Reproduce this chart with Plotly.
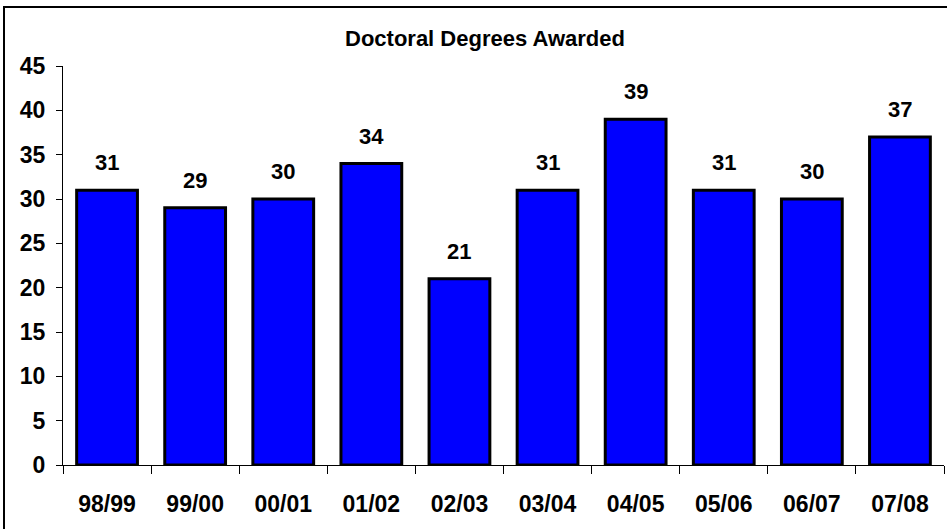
import plotly.graph_objects as go

categories = ["98/99", "99/00", "00/01", "01/02", "02/03", "03/04", "04/05", "05/06", "06/07", "07/08"]
degrees = [31, 29, 30, 34, 21, 31, 39, 31, 30, 37]
y_ticks = [0, 5, 10, 15, 20, 25, 30, 35, 40, 45]

FONT = "Liberation Sans, Arial, sans-serif"

fig = go.Figure()
fig.add_trace(go.Bar(
    x=categories, y=degrees,
    marker=dict(color="#0000FF", line=dict(color="black", width=3)),
    width=0.69,
    hoverinfo="x+y",
))

for c, v in zip(categories, degrees):
    fig.add_annotation(x=c, y=v, text=f"<b>{v}</b>", showarrow=False,
                       yanchor="bottom", yshift=13,
                       font=dict(family=FONT, size=22, color="black"))

fig.update_layout(
    width=947, height=529,
    margin=dict(l=63, r=3, t=66, b=64),
    paper_bgcolor="white", plot_bgcolor="white",
    showlegend=False,
    title=dict(text="<b>Doctoral Degrees Awarded</b>", x=485 / 947, xanchor="center",
               xref="container",
               y=1 - 38 / 529, yanchor="middle", yref="container",
               font=dict(family=FONT, size=22, color="black")),
    font=dict(family=FONT, color="black"),
    xaxis=dict(
        type="category", showline=True, linecolor="black", linewidth=1,
        ticks="outside", tickson="boundaries", ticklen=8, tickcolor="black", tickwidth=1,
        tickfont=dict(family=FONT, size=23, color="black"), ticklabelstandoff=18,
        tickvals=categories, ticktext=[f"<b>{c}</b>" for c in categories],
        showgrid=False, zeroline=False, range=[-0.5, 9.5],
    ),
    yaxis=dict(
        range=[0, 45], tickvals=y_ticks, ticktext=[f"<b>{t}</b>" for t in y_ticks],
        showline=True, linecolor="black", linewidth=1,
        ticks="outside", ticklen=6, tickcolor="black", tickwidth=1,
        tickfont=dict(family=FONT, size=23, color="black"), ticklabelstandoff=6,
        showgrid=False, zeroline=False,
    ),
    shapes=[dict(type="rect", xref="paper", yref="paper",
                 x0=(4 - 63) / 881, x1=1.2, y0=-0.5, y1=(465 - 7) / 399,
                 line=dict(color="black", width=2), layer="above")],
)

fig.write_html("out.html", config={"displayModeBar": False},
               post_script="document.body.style.margin='0';")
